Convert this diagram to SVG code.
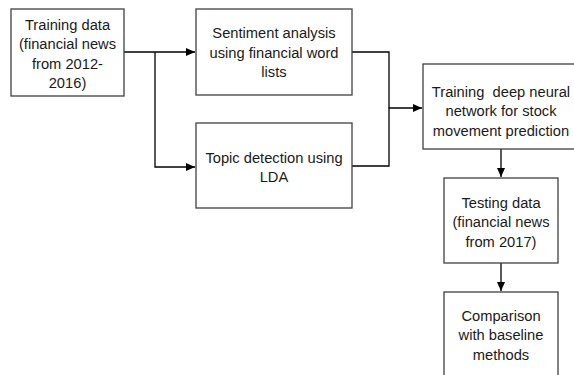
<svg xmlns="http://www.w3.org/2000/svg" width="574" height="375" viewBox="0 0 574 375">
<style>
.box{fill:#fff;stroke:#404040;stroke-width:1.3}
.t{font-family:"Liberation Sans",Arial,sans-serif;font-size:14.7px;fill:#1a1a1a;text-anchor:middle;white-space:pre}
.c{fill:none;stroke:#000;stroke-width:1.3}
</style>
<defs>
<marker id="ah" markerWidth="10" markerHeight="8" refX="9" refY="4" orient="auto" markerUnits="userSpaceOnUse">
<path d="M0,0 L9,4 L0,8 Z" fill="#000"/>
</marker>
</defs>
<rect width="574" height="375" fill="#fff"/>
<g id="connectors">
<path class="c" d="M124,52 H195" marker-end="url(#ah)"/>
<path class="c" d="M155,52 V167 H195" marker-end="url(#ah)"/>
<path class="c" d="M352,52 H389 V108"/>
<path class="c" d="M352,166 H389 V108 H422" marker-end="url(#ah)"/>
<path class="c" d="M501,149 V177" marker-end="url(#ah)"/>
<path class="c" d="M501,263 V291" marker-end="url(#ah)"/>
</g>
<g id="training-data">
<rect class="box" x="11" y="9" width="113" height="87"/>
<text class="t" x="67.5" y="29.5">Training data</text>
<text class="t" x="67.5" y="49">(financial news</text>
<text class="t" x="67.5" y="68.5">from 2012-</text>
<text class="t" x="67.5" y="88">2016)</text>
</g>
<g id="sentiment">
<rect class="box" x="196" y="9" width="156" height="86"/>
<text class="t" x="274" y="38">Sentiment analysis</text>
<text class="t" x="274" y="57.5">using financial word</text>
<text class="t" x="274" y="77">lists</text>
</g>
<g id="topic">
<rect class="box" x="196" y="123" width="156" height="85"/>
<text class="t" x="274" y="162.5">Topic detection using</text>
<text class="t" x="274" y="182">LDA</text>
</g>
<g id="dnn">
<rect class="box" x="423" y="64" width="156" height="85"/>
<text class="t" x="501" y="96.5">Training  deep neural</text>
<text class="t" x="501" y="116">network for stock</text>
<text class="t" x="501" y="135.5">movement prediction</text>
</g>
<g id="testing">
<rect class="box" x="444" y="178" width="114" height="85"/>
<text class="t" x="501" y="207.5">Testing data</text>
<text class="t" x="501" y="227">(financial news</text>
<text class="t" x="501" y="246.5">from 2017)</text>
</g>
<g id="comparison">
<rect class="box" x="444" y="292" width="114" height="86"/>
<text class="t" x="501" y="320.5">Comparison</text>
<text class="t" x="501" y="340">with baseline</text>
<text class="t" x="501" y="359.5">methods</text>
</g>
</svg>
